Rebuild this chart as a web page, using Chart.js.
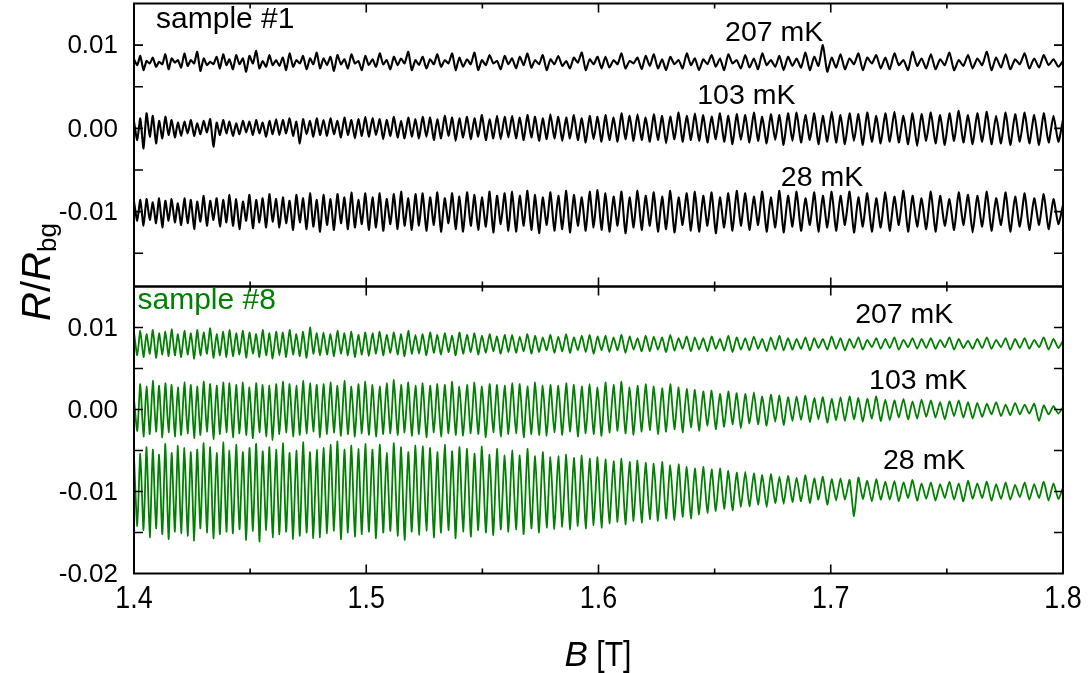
<!DOCTYPE html>
<html>
<head>
<meta charset="utf-8">
<script src="https://cdn.jsdelivr.net/npm/chart.js@4.4.0/dist/chart.umd.min.js"></script>
<style>
  html, body { margin: 0; padding: 0; background: #fff; }
  #wrap { position: relative; width: 1091px; height: 673px; }
  #wrap canvas { position: absolute; left: 0; top: 0; }
</style>
</head>
<body>
<div id="wrap">
  <canvas id="topPanel" width="1091" height="673"></canvas>
  <canvas id="bottomPanel" width="1091" height="673"></canvas>
</div>
<script>
// Field positions of the oscillation extrema, in mT
const fieldMilliTesla = [
  1400.0,1401.4,1402.7,1404.1,1405.4,1406.8,1408.1,1409.5,1410.8,1412.2,1413.5,1414.9,1416.2,1417.6,1418.9,1420.3,
  1421.7,1423.1,1424.5,1425.9,1427.2,1428.6,1430.0,1431.4,1432.8,1434.2,1435.6,1437.0,1438.4,1439.8,1441.1,
  1442.6,1444.0,1445.4,1446.9,1448.3,1449.7,1451.2,1452.6,1454.0,1455.4,1456.9,1458.3,1459.7,1461.2,
  1462.6,1464.1,1465.5,1467.0,1468.5,1469.9,1471.4,1472.8,1474.3,1475.8,1477.2,1478.7,1480.1,
  1481.6,1483.1,1484.6,1486.1,1487.6,1489.1,1490.6,1492.1,1493.6,1495.1,1496.6,1498.1,1499.6,1501.1,
  1502.7,1504.2,1505.8,1507.3,1508.8,1510.4,1511.9,1513.5,1515.0,1516.5,1518.1,1519.6,1521.2,
  1522.7,1524.3,1525.9,1527.5,1529.1,1530.6,1532.2,1533.8,1535.4,1537.0,1538.5,1540.1,
  1541.7,1543.4,1545.0,1546.6,1548.2,1549.8,1551.5,1553.1,1554.7,1556.3,1557.9,1559.6,1561.2,
  1562.8,1564.5,1566.1,1567.8,1569.4,1571.1,1572.7,1574.4,1576.0,1577.7,1579.3,1581.0,
  1582.7,1584.4,1586.1,1587.7,1589.4,1591.1,1592.8,1594.5,1596.2,1597.9,1599.6,1601.3,
  1603.0,1604.7,1606.5,1608.2,1609.9,1611.6,1613.4,1615.1,1616.8,1618.6,1620.3,
  1622.1,1623.8,1625.6,1627.4,1629.1,1630.9,1632.7,1634.5,1636.2,1638.0,1639.8,1641.5,
  1643.3,1645.1,1646.9,1648.7,1650.5,1652.3,1654.1,1655.9,1657.7,1659.5,1661.3,
  1663.2,1665.0,1666.9,1668.7,1670.5,1672.4,1674.2,1676.1,1677.9,1679.7,1681.6,
  1683.5,1685.3,1687.2,1689.1,1691.0,1692.9,1694.7,1696.6,1698.5,1700.4,
  1702.3,1704.2,1706.1,1708.1,1710.0,1711.9,1713.8,1715.7,1717.7,1719.6,1721.5,
  1723.5,1725.4,1727.4,1729.3,1731.3,1733.3,1735.2,1737.2,1739.1,1741.1,
  1743.1,1745.1,1747.1,1749.1,1751.1,1753.1,1755.1,1757.1,1759.1,1761.1,
  1763.1,1765.2,1767.2,1769.2,1771.2,1773.3,1775.3,1777.3,1779.4,1781.4,
  1783.5,1785.5,1787.6,1789.7,1791.7,1793.8,1795.9,1798.0,1800.0
];

// R/R_bg in units of 1e-4 (curves offset for clarity)
const sample1_207mK = [
  83,76,87,70,81,78,85,74,80,77,89,71,84,79,82,73,
  90,75,82,78,92,69,84,76,80,77,86,72,89,76,83,
  71,88,77,84,68,87,78,93,72,81,74,88,76,82,
  75,85,70,90,74,82,78,87,71,84,77,91,72,
  84,76,86,69,88,77,83,72,89,78,81,70,87,76,
  83,74,90,77,82,71,86,76,84,78,92,70,82,
  76,86,72,83,77,89,74,82,78,90,70,85,
  74,83,77,91,70,82,76,88,78,81,71,87,77,
  84,72,86,76,90,73,82,77,88,70,83,77,
  87,75,81,72,85,79,91,70,83,77,86,72,
  86,73,82,77,90,72,81,78,85,71,87,
  75,89,72,83,70,86,77,82,72,90,76,84,
  70,83,77,88,74,84,70,89,78,82,72,
  88,73,84,71,90,76,82,74,87,70,86,
  75,84,73,91,70,86,75,100,68,85,
  73,89,71,84,77,90,70,85,78,88,72,
  85,71,90,76,82,70,92,75,84,72,
  89,71,83,76,91,70,82,75,88,72,
  84,76,92,70,85,73,89,71,83,77,
  90,72,84,73,88,76,83,74,81
];
const sample1_103mK = [
  8,-14,12,-24,18,-10,15,-18,9,-12,14,-8,10,-11,7,-9,
  8,-6,10,-9,6,-7,9,-5,11,-22,7,-8,10,-6,8,
  -9,6,-7,9,-5,8,-8,10,-6,7,-10,9,-7,11,
  -8,10,-6,12,-9,8,-18,11,-7,9,-10,12,-8,
  10,-9,12,-7,9,-11,13,-8,10,-12,11,-9,14,-10,
  12,-8,11,-13,10,-9,14,-11,9,-12,13,-10,11,
  -12,14,-10,13,-14,11,-12,15,-9,13,-15,12,
  -11,14,-13,12,-10,16,-14,11,-12,15,-13,14,-11,
  15,-12,13,-14,16,-11,14,-15,12,-13,17,-12,
  14,-15,13,-12,16,-14,12,-17,15,-13,14,-16,
  16,-14,13,-16,18,-13,15,-15,17,-14,13,
  -16,17,-14,15,-18,14,-13,19,-16,15,-14,18,
  -15,16,-17,14,-13,18,-16,15,-19,17,-14,
  16,-17,19,-15,14,-18,17,-14,16,-20,18,
  -15,19,-17,16,-14,18,-19,15,-16,20,
  -17,16,-19,18,-15,17,-20,19,-16,15,-18,
  18,-16,20,-17,15,-19,18,-21,17,-15,
  19,-18,16,-20,18,-15,21,-17,16,-19,
  18,-16,20,-19,15,-18,19,-20,17,-16,
  19,-18,16,-20,18,-17,15,-16,10
];
const sample1_28mK = [
  -88,-111,-86,-117,-85,-110,-89,-114,-84,-119,-87,-111,-85,-113,-90,-116,
  -84,-114,-86,-121,-88,-112,-81,-117,-87,-110,-84,-118,-86,-113,-80,
  -117,-85,-121,-88,-111,-80,-120,-86,-113,-84,-119,-79,-112,-85,
  -119,-83,-114,-87,-122,-80,-113,-84,-121,-78,-118,-86,-124,
  -80,-116,-85,-122,-79,-114,-83,-121,-77,-119,-86,-115,-78,-122,
  -83,-119,-78,-123,-85,-115,-79,-121,-76,-117,-84,-122,-79,
  -117,-78,-123,-83,-116,-77,-124,-84,-114,-78,-121,-82,
  -124,-77,-117,-80,-122,-83,-118,-76,-125,-81,-115,-78,-123,
  -76,-124,-81,-117,-75,-122,-80,-126,-83,-116,-77,-123,
  -81,-121,-75,-125,-80,-117,-83,-123,-76,-119,-74,-122,
  -78,-124,-82,-117,-76,-126,-83,-119,-75,-122,-81,
  -117,-77,-124,-82,-121,-75,-125,-83,-116,-78,-123,-76,
  -124,-81,-117,-77,-126,-83,-119,-78,-123,-75,-117,
  -78,-122,-82,-116,-76,-124,-83,-119,-75,-125,-81,
  -118,-76,-123,-84,-116,-77,-124,-81,-119,-76,
  -123,-81,-116,-76,-125,-83,-118,-78,-124,-84,-119,
  -77,-123,-82,-116,-75,-124,-81,-118,-84,-121,
  -76,-124,-81,-117,-85,-122,-77,-116,-80,-125,
  -81,-118,-76,-123,-84,-116,-77,-124,-82,-118,
  -78,-122,-84,-116,-79,-121,-85,-115,-92
];
const sample8_207mK = [
  94,66,96,64,92,68,97,63,93,67,95,65,98,66,92,64,
  96,67,93,62,97,66,94,68,99,63,92,66,95,64,97,
  65,93,67,96,63,94,68,92,64,97,66,93,62,95,
  66,94,64,97,67,92,65,95,63,100,68,93,66,
  94,67,92,65,96,68,93,66,95,64,91,67,94,65,
  93,68,95,66,91,69,94,67,92,65,96,68,91,
  68,92,66,94,69,91,67,93,70,90,66,94,
  68,91,70,93,67,90,69,92,71,89,68,91,70,
  91,69,89,71,92,68,90,70,88,72,91,69,
  89,71,92,69,88,72,90,70,91,68,89,72,
  90,70,88,72,91,69,89,73,87,71,90,
  71,89,73,88,70,91,72,87,74,89,71,88,
  73,87,71,89,74,86,72,90,70,88,73,
  87,72,89,74,86,71,88,73,90,72,87,
  73,86,74,88,72,87,75,86,73,89,
  74,87,72,86,75,88,73,85,76,87,74,
  86,75,88,73,85,76,87,74,86,75,
  87,74,85,76,88,73,86,75,84,74,
  86,75,88,74,85,76,87,73,86,75,
  87,74,85,76,88,73,86,75,84
];
const sample8_103mK = [
  12,-26,31,-33,28,-30,35,-27,29,-34,32,-28,30,-33,27,-31,
  33,-29,30,-35,28,-31,34,-27,31,-36,29,-30,33,-28,32,
  -34,30,-29,33,-31,27,-35,32,-28,30,-33,29,-37,31,
  -30,34,-28,31,-33,29,-31,35,-29,32,-27,30,-34,
  31,-30,33,-28,29,-32,35,-30,28,-33,31,-29,34,-31,
  30,-33,28,-30,32,-29,36,-31,30,-28,33,-32,29,
  -30,32,-34,29,-28,31,-33,30,-29,34,-31,28,
  -32,30,-29,33,-30,28,-34,31,-28,30,-33,29,-30,
  32,-29,31,-34,28,-30,33,-31,29,-32,30,-28,
  29,-31,32,-27,30,-33,28,-29,31,-30,27,-32,
  33,-28,30,-26,34,-29,27,-31,29,-27,31,
  -25,28,-30,26,-27,31,-24,27,-28,25,-22,24,
  -26,22,-20,23,-24,19,-21,22,-18,20,-23,
  19,-17,21,-18,16,-20,18,-15,17,-19,15,
  -14,16,-13,17,-15,14,-12,15,-16,13,
  -13,15,-14,16,-12,14,-15,13,-11,16,-14,
  12,-13,11,-10,13,-12,10,-11,12,-9,
  11,-10,9,-12,10,-8,11,-10,9,-11,
  8,-9,7,-6,9,-8,6,-7,8,-6,
  6,-5,7,-14,5,-6,4,-5,3
];
const sample8_28mK = [
  -58,-142,-54,-147,-46,-156,-49,-145,-55,-152,-42,-158,-53,-149,-44,-151,
  -47,-154,-52,-160,-49,-145,-41,-150,-46,-157,-53,-152,-40,-149,-50,
  -151,-43,-146,-52,-159,-47,-148,-42,-161,-51,-147,-46,-156,-49,
  -152,-41,-149,-53,-158,-50,-154,-40,-150,-52,-157,-49,-156,
  -47,-151,-43,-148,-39,-158,-49,-150,-44,-155,-48,-152,-42,-149,
  -49,-157,-43,-150,-53,-148,-41,-154,-46,-159,-52,-149,-44,
  -153,-45,-148,-47,-156,-52,-150,-43,-147,-51,-157,-46,
  -149,-48,-155,-54,-147,-45,-150,-55,-153,-48,-146,-56,-149,
  -50,-146,-56,-152,-48,-145,-57,-150,-52,-144,-58,-146,
  -57,-143,-55,-146,-59,-142,-56,-145,-60,-141,-58,-144,
  -61,-139,-63,-137,-60,-140,-64,-136,-62,-138,-65,
  -134,-66,-136,-64,-133,-68,-135,-67,-131,-70,-133,-72,
  -128,-70,-126,-73,-124,-72,-121,-75,-123,-77,-119,
  -76,-118,-78,-116,-80,-119,-79,-114,-82,-115,-81,
  -113,-83,-112,-80,-114,-84,-110,-82,-116,-85,
  -111,-84,-110,-86,-130,-83,-109,-87,-112,-85,-110,
  -88,-110,-87,-112,-89,-108,-86,-111,-90,-109,
  -89,-111,-91,-108,-88,-110,-90,-112,-87,-109,
  -90,-108,-88,-111,-91,-109,-89,-110,-92,-107,
  -89,-110,-91,-108,-88,-111,-90,-109,-95
];

const tempLabels = ['207 mK', '103 mK', '28 mK'];
const xTickValues = [1.4, 1.5, 1.6, 1.7, 1.8];
const xTickLabels = ['1.4', '1.5', '1.6', '1.7', '1.8'];
const xMinorTicks = [1.45, 1.55, 1.65, 1.75];
const topTickValues = [0.01, 0, -0.01];
const topTickLabels = ['0.01', '0.00', '-0.01'];
const topMinorTicks = [0.005, -0.005, -0.015];
const bottomTickValues = [0.01, 0, -0.01, -0.02];
const bottomTickLabels = ['0.01', '0.00', '-0.01', '-0.02'];
const bottomMinorTicks = [0.005, -0.005, -0.015];

[sample1_207mK, sample1_103mK, sample1_28mK, sample8_207mK, sample8_103mK, sample8_28mK].forEach((s, i) => {
  if (s.length !== fieldMilliTesla.length) throw new Error('trace ' + i + ' has ' + s.length + ' points, expected ' + fieldMilliTesla.length);
});

const GREEN = 'rgb(0,128,0)';
const SANS = '"Liberation Sans", Arial, sans-serif';

function toPoints(values) {
  return fieldMilliTesla.map((b, i) => ({ x: b / 1000, y: values[i] / 10000 }));
}

// text squeezed horizontally, the axis numbers use a condensed face
function narrowText(ctx, text, x, y, squeeze) {
  ctx.save();
  ctx.translate(x, y);
  ctx.scale(squeeze, 1);
  ctx.fillText(text, 0, 0);
  ctx.restore();
}

function panelPlugin(panel) {
  return {
    id: 'panelFrame',
    afterDatasetsDraw(chart) {
      const { ctx, chartArea: a } = chart;
      const xs = chart.scales.x, ys = chart.scales.y;
      ctx.save();

      // inward ticks on all four sides
      ctx.strokeStyle = '#000';
      ctx.lineWidth = 1.6;
      ctx.beginPath();
      xTickValues.forEach(v => {
        const px = xs.getPixelForValue(v);
        ctx.moveTo(px, a.bottom); ctx.lineTo(px, a.bottom - 9);
        ctx.moveTo(px, a.top); ctx.lineTo(px, a.top + 9);
      });
      xMinorTicks.forEach(v => {
        const px = xs.getPixelForValue(v);
        ctx.moveTo(px, a.bottom); ctx.lineTo(px, a.bottom - 5);
        ctx.moveTo(px, a.top); ctx.lineTo(px, a.top + 5);
      });
      panel.yTicks.concat(panel.yMinor).forEach(v => {
        const py = ys.getPixelForValue(v);
        if (py <= a.top + 1 || py >= a.bottom - 1) return;
        ctx.moveTo(a.left, py); ctx.lineTo(a.left + 9, py);
        ctx.moveTo(a.right, py); ctx.lineTo(a.right - 9, py);
      });
      ctx.stroke();

      ctx.lineWidth = 2;
      ctx.strokeRect(a.left, a.top, a.right - a.left, a.bottom - a.top);

      // y tick labels
      ctx.fillStyle = '#000';
      ctx.font = '26px ' + SANS;
      ctx.textAlign = 'right';
      ctx.textBaseline = 'middle';
      panel.yTicks.forEach((v, i) => {
        ctx.fillText(panel.yLabels[i], a.left - 16, ys.getPixelForValue(v) + 1);
      });

      // x tick labels under the lower panel
      if (panel.showX) {
        ctx.textAlign = 'center';
        ctx.textBaseline = 'top';
        ctx.font = '32px ' + SANS;
        xTickValues.forEach((v, i) => {
          narrowText(ctx, xTickLabels[i], xs.getPixelForValue(v), a.bottom + 10, 0.84);
        });
      }

      // sample name and temperatures
      ctx.textBaseline = 'middle';
      ctx.textAlign = 'left';
      ctx.font = '30px ' + SANS;
      ctx.fillStyle = panel.nameColor;
      ctx.fillText(panel.name, xs.getPixelForValue(panel.nameAt[0]), ys.getPixelForValue(panel.nameAt[1]));
      ctx.fillStyle = '#000';
      ctx.font = '28.5px ' + SANS;
      panel.tempAt.forEach((p, i) => {
        ctx.fillText(tempLabels[i], xs.getPixelForValue(p[0]), ys.getPixelForValue(p[1]));
      });
      ctx.restore();
    }
  };
}

function makePanel(canvasId, panel, traces, color, padding) {
  return new Chart(document.getElementById(canvasId), {
    type: 'line',
    data: {
      datasets: traces.map((t, i) => ({
        label: tempLabels[i],
        data: toPoints(t),
        borderColor: color,
        borderWidth: panel.lineWidth,
        pointRadius: 0,
        tension: 0.2,
        fill: false
      }))
    },
    options: {
      responsive: false,
      animation: false,
      parsing: false,
      layout: { padding: padding },
      plugins: { legend: { display: false }, tooltip: { enabled: false } },
      scales: {
        x: { type: 'linear', min: 1.4, max: 1.8, display: false },
        y: { type: 'linear', min: panel.yMin, max: 0.015, display: false }
      }
    },
    plugins: [panelPlugin(panel)]
  });
}

makePanel('topPanel', {
  yMin: -0.019, yTicks: topTickValues, yLabels: topTickLabels, yMinor: topMinorTicks,
  showX: false, lineWidth: 2.1,
  name: 'sample #1', nameColor: '#000', nameAt: [1.4095, 0.0131],
  tempAt: [[1.6545, 0.0114], [1.6425, 0.0039], [1.6785, -0.0060]]
}, [sample1_207mK, sample1_103mK, sample1_28mK], '#000',
  { left: 134, right: 28, top: 3.5, bottom: 673 - 286.5 });

makePanel('bottomPanel', {
  yMin: -0.02, yTicks: bottomTickValues, yLabels: bottomTickLabels, yMinor: bottomMinorTicks,
  showX: true, lineWidth: 1.8,
  name: 'sample #8', nameColor: GREEN, nameAt: [1.4015, 0.0133],
  tempAt: [[1.7105, 0.0115], [1.7165, 0.0034], [1.7225, -0.0063]]
}, [sample8_207mK, sample8_103mK, sample8_28mK], GREEN,
  { left: 134, right: 28, top: 286.5, bottom: 673 - 573.5 });

// axis titles
(function drawTitles() {
  const ctx = document.getElementById('bottomPanel').getContext('2d');
  ctx.save();
  ctx.fillStyle = '#000';
  ctx.textBaseline = 'alphabetic';

  // R/R_bg, rotated
  ctx.translate(50, 272);
  ctx.rotate(-Math.PI / 2);
  const big = '40px ' + SANS, bigI = 'italic 40px ' + SANS, sub = '26px ' + SANS;
  const parts = [['R', bigI, 0], ['/', big, 0], ['R', bigI, 0], ['bg', sub, 6]];
  let total = 0;
  parts.forEach(p => { ctx.font = p[1]; total += ctx.measureText(p[0]).width; });
  let cx = -total / 2;
  parts.forEach(p => {
    ctx.font = p[1];
    ctx.fillText(p[0], cx, p[2]);
    cx += ctx.measureText(p[0]).width;
  });
  ctx.restore();

  // B [T]
  ctx.save();
  ctx.fillStyle = '#000';
  ctx.textBaseline = 'alphabetic';
  ctx.font = 'italic 35px ' + SANS;
  const bw = ctx.measureText('B').width;
  ctx.font = '35px ' + SANS;
  const tw = ctx.measureText(' [T]').width * 0.86;
  const start = 598 - (bw + tw) / 2;
  ctx.font = 'italic 35px ' + SANS;
  ctx.fillText('B', start, 666);
  ctx.font = '35px ' + SANS;
  narrowText(ctx, ' [T]', start + bw, 666, 0.86);
  ctx.restore();
})();
</script>
</body>
</html>
